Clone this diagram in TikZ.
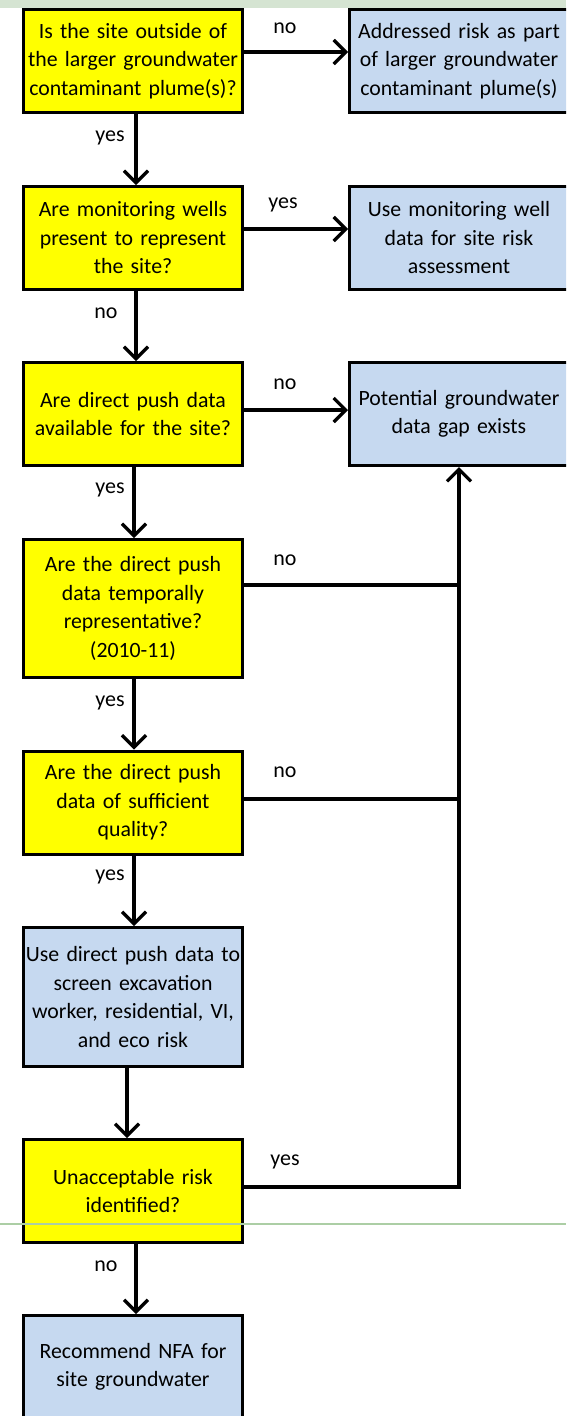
\documentclass[tikz,border=0pt]{standalone}
\usepackage{fontspec}
\setmainfont[WordSpace=0.75]{Carlito}
\usetikzlibrary{arrows.meta}
\definecolor{boxblue}{RGB}{198,217,240}
\definecolor{boxyellow}{RGB}{255,255,0}
\definecolor{topgreen}{RGB}{213,228,210}
\definecolor{thingreen}{RGB}{172,206,165}
\begin{document}
\begin{tikzpicture}[x=1pt,y=-1pt,
  box/.style={draw=black, line width=3pt, minimum width=219pt, minimum height=103pt,
    inner sep=0pt, align=center, text width=219pt,
    font=\fontsize{21.8}{28.5}\selectfont},
  qbox/.style={box, fill=boxyellow},
  abox/.style={box, fill=boxblue},
  arr/.style={line width=3.2pt, -{Straight Barb[length=12pt,width=24pt,line width=3.2pt]}},
  ln/.style={line width=3.2pt},
  lab/.style={font=\fontsize{22}{26}\selectfont, inner sep=0pt, anchor=base}]
\useasboundingbox (0,0) rectangle (566,1416);
\clip (0,0) rectangle (566,1416);
\fill[topgreen] (0,0) rectangle (566,8);

% left column
\node[qbox] (b1) at (133,61) {Is the site outside of\\the larger groundwater\\contaminant plume(s)?};
\node[qbox] (b2) at (133,238) {Are monitoring wells\\present to represent\\the site?};
\node[qbox] (b3) at (133,414) {Are direct push data\\available for the site?};
\node[qbox, minimum height=138pt] (b4) at (133,608.5) {Are the direct push\\data temporally\\representative?\\(2010-11)};
\node[qbox] (b5) at (133,802.5) {Are the direct push\\data of sufficient\\quality?};
\node[abox, minimum height=139pt] (b6) at (133,997) {Use direct push data to\\screen excavation\\worker, residential, VI,\\and eco risk};
\node[qbox] (b7) at (133,1191) {Unacceptable risk\\identified?};
\node[abox] (b8) at (133,1367) {Recommend NFA for\\site groundwater};

% right column
\node[abox] (r1) at (459,61) {Addressed risk as part\\of larger groundwater\\contaminant plume(s)};
\node[abox] (r2) at (459,238) {Use monitoring well\\data for site risk\\assessment};
\node[abox] (r3) at (459,414) {Potential groundwater\\data gap exists};

% horizontal arrows
\draw[arr] ([yshift=9pt]b1.east) -- ([yshift=9pt]r1.west);
\draw[arr] ([yshift=9pt]b2.east) -- ([yshift=9pt]r2.west);
\draw[arr] ([yshift=4pt]b3.east) -- ([yshift=4pt]r3.west);

% vertical arrows
\draw[arr] ([xshift=3pt]b1.south) -- ([xshift=3pt]b2.north);
\draw[arr] ([xshift=3pt]b2.south) -- ([xshift=3pt]b3.north);
\draw[arr] ([xshift=1pt]b3.south) -- ([xshift=1pt]b4.north);
\draw[arr] ([xshift=1pt]b4.south) -- ([xshift=1pt]b5.north);
\draw[arr] ([xshift=1pt]b5.south) -- ([xshift=1pt]b6.north);
\draw[arr] ([xshift=-6pt]b6.south) -- ([xshift=-6pt]b7.north);
\draw[arr] ([xshift=3pt]b7.south) -- ([xshift=3pt]b8.north);

% feedback to data gap
\coordinate (j4) at ([yshift=23.5pt]b4.east);
\coordinate (j5) at ([yshift=3.5pt]b5.east);
\coordinate (j7) at ([yshift=4pt]b7.east);
\draw[ln] (j4) -- (j4 -| r3.south);
\draw[ln] (j5) -- (j5 -| r3.south);
\draw[arr] (j7) -| (r3.south);

% labels
\node[lab] (l1) at (285,33) {no};
\node[lab] (l2) at (110,141) {yes};
\node[lab] (l3) at (283,208) {yes};
\node[lab] (l4) at (106,318) {no};
\node[lab] (l5) at (285,389) {no};
\node[lab] (l6) at (110,493) {yes};
\node[lab] (l7) at (285,565) {no};
\node[lab] (l8) at (110,706) {yes};
\node[lab] (l9) at (285,777) {no};
\node[lab] (l10) at (110,880) {yes};
\node[lab] (l11) at (285,1165) {yes};
\node[lab] (l12) at (106,1271) {no};

% thin green rule
\draw[thingreen, line width=1.2pt] (0,1224) -- (566,1224);
\end{tikzpicture}
\end{document}
